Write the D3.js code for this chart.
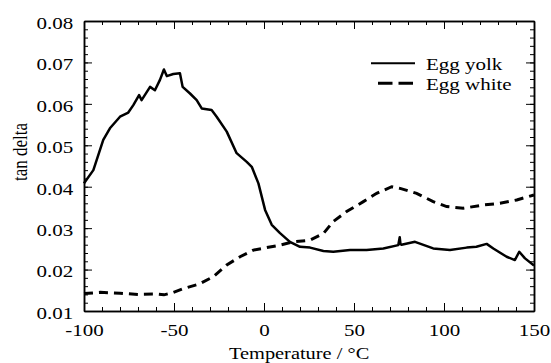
<!DOCTYPE html>
<html>
<head>
<meta charset="utf-8">
<script src="https://cdn.jsdelivr.net/npm/d3@7"></script>
<style>
  body { margin: 0; background: #fff; }
  svg text { font-family: "Liberation Serif", "Times New Roman", serif !important; }
</style>
</head>
<body>
<script>
// Data
const yolkTemp = [-100, -99.4, -94.8, -89.3, -85.6, -80, -75.4, -72.6, -69.4, -68, -63.3, -60.6, -57.8, -55.6, -54, -50.4, -46.7, -45.2, -41.1, -37.4, -34.6, -29.1, -26.3, -20.7, -15.2, -9.6, -6.8, -3.1, 0.6, 4.3, 8.9, 14.4, 20, 25.6, 33, 38.5, 47.8, 57, 66.3, 74.6, 75.4, 75.8, 76.4, 83.9, 94, 103.3, 112.6, 118, 123.7, 127.4, 134.8, 139.4, 141.8, 145, 150];
const yolkTan  = [0.0408, 0.0412, 0.0440, 0.0513, 0.0541, 0.0569, 0.0579, 0.0597, 0.0621, 0.0609, 0.0641, 0.0633, 0.0658, 0.0683, 0.0667, 0.0672, 0.0674, 0.0641, 0.0625, 0.0609, 0.0589, 0.0585, 0.0569, 0.0533, 0.0481, 0.0460, 0.0448, 0.0408, 0.0344, 0.0308, 0.0288, 0.0267, 0.0255, 0.0253, 0.0245, 0.0243, 0.0247, 0.0247, 0.0251, 0.0259, 0.0278, 0.0262, 0.0260, 0.0267, 0.0251, 0.0247, 0.0253, 0.0255, 0.0262, 0.0251, 0.0231, 0.0223, 0.0243, 0.0227, 0.0210];

const whiteTemp = [-100, -91, -80, -70, -60, -55.6, -51, -45.5, -36, -28.1, -20.7, -13.3, -5.9, 1.5, 8.9, 16.3, 25.6, 33, 38.5, 45.9, 55.2, 62.6, 70.9, 75.6, 84.8, 94, 101.5, 110.7, 121.9, 131.1, 140.4, 150];
const whiteTan  = [0.0142, 0.0145, 0.0143, 0.0140, 0.0141, 0.0139, 0.0144, 0.0153, 0.0165, 0.0183, 0.0211, 0.0231, 0.0247, 0.0253, 0.0259, 0.0267, 0.0271, 0.0287, 0.0316, 0.0340, 0.0364, 0.0384, 0.0400, 0.0396, 0.0384, 0.0364, 0.0352, 0.0348, 0.0356, 0.0360, 0.0368, 0.0380];

const xTicks = [-100, -50, 0, 50, 100, 150];
const yTicks = [0.01, 0.02, 0.03, 0.04, 0.05, 0.06, 0.07, 0.08];
const seriesNames = ["Egg yolk", "Egg white"];

const FONT = '"Liberation Serif", "Times New Roman", serif';
const STRETCH = 1.2; // the picture's text is a bit wide

let width = 551,
    height = 363;

let margin = { top: 21, bottom: 52, left: 84, right: 17 };

let svg = d3.select('body')
  .append('svg')
    .attr('width', width)
    .attr('height', height);

let xScale = d3.scaleLinear()
  .domain([-100, 150])
  .range([margin.left, width - margin.right]);

let yScale = d3.scaleLinear()
  .domain([0.01, 0.08])
  .range([height - margin.bottom, margin.top]);

let xMinor = d3.range(-100, 151, 10);
let yMinor = d3.range(0.01, 0.0801, 0.002);

function tickAxis(axisFn, scale, values, size, fmt) {
  return axisFn(scale).tickValues(values).tickSizeInner(size).tickSizeOuter(0).tickFormat(fmt);
}

// minor ticks on all sides
svg.append('g').attr('transform', `translate(0,${height - margin.bottom})`)
  .call(tickAxis(d3.axisBottom, xScale, xMinor, -4, ''));
svg.append('g').attr('transform', `translate(0,${margin.top})`)
  .call(tickAxis(d3.axisTop, xScale, xMinor, -4, ''));
svg.append('g').attr('transform', `translate(${margin.left},0)`)
  .call(tickAxis(d3.axisLeft, yScale, yMinor, -4, ''));
svg.append('g').attr('transform', `translate(${width - margin.right},0)`)
  .call(tickAxis(d3.axisRight, yScale, yMinor, -4, ''));

// major ticks
let xAxis = svg.append('g').attr('transform', `translate(0,${height - margin.bottom})`)
  .call(tickAxis(d3.axisBottom, xScale, xTicks, -8, d => String(d)));
svg.append('g').attr('transform', `translate(0,${margin.top})`)
  .call(tickAxis(d3.axisTop, xScale, xTicks, -8, ''));
let yAxis = svg.append('g').attr('transform', `translate(${margin.left},0)`)
  .call(tickAxis(d3.axisLeft, yScale, yTicks, -8, d3.format('.2f')));
svg.append('g').attr('transform', `translate(${width - margin.right},0)`)
  .call(tickAxis(d3.axisRight, yScale, yTicks, -8, ''));

svg.selectAll('.tick line').attr('stroke', '#000').attr('stroke-width', 1);
svg.selectAll('.domain').attr('stroke', '#000').attr('stroke-width', 1.5);

xAxis.attr('font-family', FONT).attr('font-size', 17.5);
xAxis.selectAll('text')
  .attr('y', 13)
  .attr('fill', '#000')
  .attr('transform', `scale(${STRETCH},1)`);

yAxis.attr('font-family', FONT).attr('font-size', 17.5);
yAxis.selectAll('text')
  .attr('x', -10.7 / STRETCH)
  .attr('dy', '0.42em')
  .attr('fill', '#000')
  .attr('transform', `scale(${STRETCH},1)`);

// axis titles
svg.append('text')
  .attr('transform', `translate(${xScale(19.5)},359) scale(${STRETCH},1)`)
  .attr('text-anchor', 'middle')
  .attr('font-family', FONT)
  .attr('font-size', 17)
  .text('Temperature / °C');

svg.append('text')
  .attr('transform', `translate(27,152) rotate(-90) scale(1,${STRETCH})`)
  .attr('text-anchor', 'middle')
  .attr('font-family', FONT)
  .attr('font-size', 17)
  .text('tan delta');

// lines
let line = d3.line()
  .x(d => xScale(d[0]))
  .y(d => yScale(d[1]));

svg.append('path')
  .datum(d3.zip(yolkTemp, yolkTan))
  .attr('d', line)
  .attr('fill', 'none')
  .attr('stroke', '#000')
  .attr('stroke-width', 2.5)
  .attr('stroke-linejoin', 'round');

svg.append('path')
  .datum(d3.zip(whiteTemp, whiteTan))
  .attr('d', line)
  .attr('fill', 'none')
  .attr('stroke', '#000')
  .attr('stroke-width', 3)
  .attr('stroke-dasharray', '9,6');

// legend
let legend = svg.append('g');
seriesNames.forEach(function(name, i) {
  let y = 63.3 + i * 20;
  legend.append('line')
    .attr('x1', i === 0 ? 371 : 378)
    .attr('x2', 415)
    .attr('y1', y)
    .attr('y2', y)
    .attr('stroke', '#000')
    .attr('stroke-width', i === 0 ? 2 : 3)
    .attr('stroke-dasharray', i === 0 ? null : '14.5,6');
  legend.append('text')
    .attr('transform', `translate(426,${y + 6.2}) scale(${STRETCH},1)`)
    .attr('font-family', FONT)
    .attr('font-size', 17.5)
    .text(name);
});
</script>
</body>
</html>
